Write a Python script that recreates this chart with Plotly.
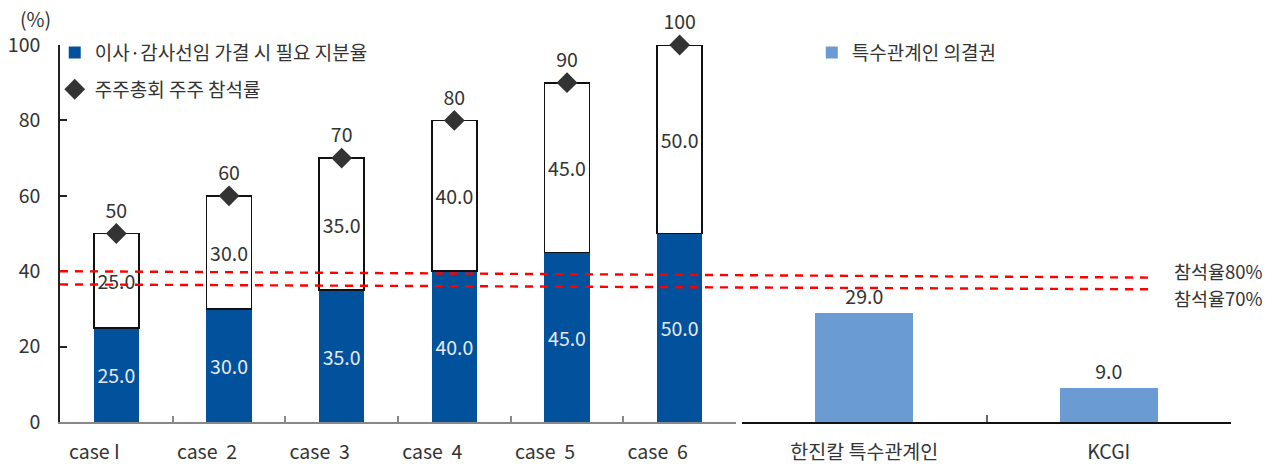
import plotly.graph_objects as go

# ---- data ----
cases = ["case I", "case\u00a0\u00a02", "case\u00a0\u00a03", "case\u00a0\u00a04", "case\u00a0\u00a05", "case\u00a0\u00a06"]
required_share = [25, 30, 35, 40, 45, 50]          # 이사·감사선임 가결 시 필요 지분율
remaining_share = [25, 30, 35, 40, 45, 50]         # white upper segment
attendance = [50, 60, 70, 80, 90, 100]             # 주주총회 주주 참석률
holders = ["한진칼 특수관계인", "KCGI"]
holder_votes = [29.0, 9.0]                         # 특수관계인 의결권
ref_names = ["참석율80%", "참석율70%"]
ref_start = [40.0, 36.5]
ref_end = [38.3, 35.2]
y_ticks = [0, 20, 40, 60, 80, 100]

FONT = "Noto Sans CJK KR"
TXT = "#333333"
DARK = "#02519C"
LIGHT = "#6A9BD3"
FS = 19.5

fig = go.Figure()

fig.add_trace(go.Bar(
    x=cases, y=required_share, xaxis="x", yaxis="y",
    name="이사·감사선임 가결 시 필요 지분율", marker=dict(color=DARK, line=dict(width=0)),
    width=0.4, texttemplate="%{y:.1f}", textposition="inside", insidetextanchor="middle",
    textangle=0, textfont=dict(color="#E6EAF0", size=FS, family=FONT),
    legend="legend", legendgroup="g1",
))
fig.add_trace(go.Bar(
    x=cases, y=remaining_share, xaxis="x", yaxis="y",
    name="잔여", marker=dict(color="white", line=dict(color="#111111", width=1.6)),
    width=0.4, texttemplate="%{y:.1f}", textposition="inside", insidetextanchor="middle",
    textangle=0, textfont=dict(color=TXT, size=FS, family=FONT),
    showlegend=False,
))
fig.add_trace(go.Scatter(
    x=cases, y=attendance, xaxis="x", yaxis="y", mode="markers+text",
    name="주주총회 주주 참석률",
    marker=dict(symbol="diamond", size=16, color="#333333"),
    text=[str(v) for v in attendance], textposition="top center",
    textfont=dict(color=TXT, size=FS, family=FONT), cliponaxis=False,
    legend="legend", legendgroup="g2",
))
fig.add_trace(go.Bar(
    x=holders, y=holder_votes, xaxis="x2", yaxis="y",
    name="특수관계인 의결권", marker=dict(color=LIGHT, line=dict(width=0)),
    width=0.4, texttemplate="%{y:.1f}", textposition="outside",
    textfont=dict(color=TXT, size=FS, family=FONT), cliponaxis=False,
    legend="legend2",
))
for nm, a, b in zip(ref_names, ref_start, ref_end):
    fig.add_trace(go.Scatter(
        x=[0, 0.9325], y=[a, b], xaxis="x3", yaxis="y", mode="lines",
        line=dict(color="#FF0000", width=2.4, dash="8px,7px"),
        showlegend=False, hoverinfo="skip", name=nm,
    ))

fig.add_annotation(x=0.9496, y=40.0, xref="x3", yref="y", text=ref_names[0],
                   showarrow=False, xanchor="left", font=dict(size=18.5, color=TXT, family=FONT))
fig.add_annotation(x=0.9496, y=32.9, xref="x3", yref="y", text=ref_names[1],
                   showarrow=False, xanchor="left", font=dict(size=18.5, color=TXT, family=FONT))
fig.add_annotation(x=-0.0205, y=1.07, xref="paper", yref="paper", text="(%)",
                   showarrow=False, xanchor="center", yanchor="middle",
                   font=dict(size=FS, color=TXT, family=FONT))

fig.update_layout(
    width=1278, height=464,
    margin=dict(l=60, r=47, t=45, b=42, autoexpand=False),
    paper_bgcolor="white", plot_bgcolor="rgba(0,0,0,0)",
    barmode="stack", bargap=0.6,
    font=dict(family=FONT, size=FS, color=TXT),
    uniformtext=dict(minsize=FS, mode="show"),
    showlegend=True,
    xaxis=dict(domain=[0, 0.57728], anchor="y", type="category", automargin=False,
               showline=True, linecolor="#888888", linewidth=2,
               ticks="inside", ticklen=6, tickcolor="#888888", tickwidth=1.5,
               tickson="boundaries", showgrid=False, zeroline=False,
               ticklabelshift=-22, ticklabelstandoff=12,
               tickfont=dict(size=FS, color=TXT, family=FONT)),
    xaxis2=dict(domain=[0.58241, 1], anchor="y", type="category", automargin=False,
                showline=True, linecolor="#111111", linewidth=1.6,
                ticks="inside", ticklen=7, tickcolor="#666666", tickwidth=1.5,
                tickson="boundaries", showgrid=False, zeroline=False,
                ticklabelstandoff=12,
                tickfont=dict(size=FS, color=TXT, family=FONT)),
    xaxis3=dict(domain=[0, 1], anchor="y", range=[0, 1], visible=False),
    yaxis=dict(domain=[0, 1], anchor="x", range=[0, 100], tickvals=y_ticks, automargin=False,
               showline=True, linecolor="#222222", linewidth=1.6,
               ticks="inside", ticklen=7, tickcolor="#222222", tickwidth=1.5,
               showgrid=False, zeroline=False, ticklabelstandoff=14,
               tickfont=dict(size=FS, color=TXT, family=FONT)),
    legend=dict(x=-0.0045, y=1.03, xanchor="left", yanchor="top",
                bgcolor="rgba(0,0,0,0)", tracegroupgap=9,
                font=dict(size=19, color=TXT, family=FONT), itemwidth=30),
    legend2=dict(x=0.642, y=1.03, xanchor="left", yanchor="top",
                 bgcolor="rgba(0,0,0,0)",
                 font=dict(size=19, color=TXT, family=FONT), itemwidth=30),
)

fig.write_html("out.html",
               config={"displayModeBar": False},
               post_script="document.documentElement.style.margin='0';"
                           "document.body.style.margin='0';"
                           "document.body.style.overflow='hidden';")
